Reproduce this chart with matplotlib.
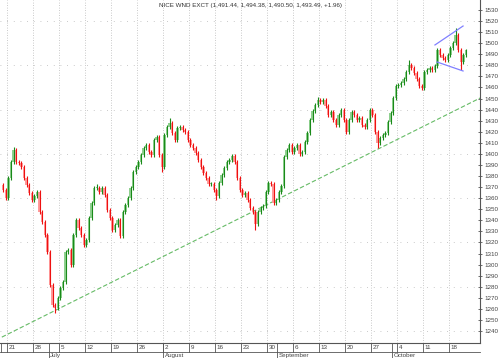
import numpy as np
import matplotlib
matplotlib.use("Agg")
import matplotlib.pyplot as plt

plt.rcParams["font.family"] = ["Liberation Sans", "DejaVu Sans"]

# ---------------- data ----------------
title = "NICE WND EXCT (1,491.44, 1,494.38, 1,490.50, 1,493.49, +1.96)"

# weekly tick labels (Mondays) and their trading-day index (June 21 2010 = 0)
week_labels = ["21", "28", "5", "12", "19", "26", "2", "9", "16", "23",
               "30", "6", "13", "20", "27", "4", "11", "18"]
week_index = [0, 5, 10, 15, 20, 25, 30, 35, 40, 45, 50, 55, 60, 65, 70, 75, 80, 85]
month_labels = ["July", "August", "September", "October"]
month_index = [8, 30, 52, 74]

# half-day bars starting June 18 (index -1)
bar_start = -1.0
bar_step = 0.5
closes = [
    1367.4, 1360.2, 1378.2, 1392.7, 1403.5, 1392.7, 1391.8, 1388.2, 1378.2, 1371.9,
    1364.7, 1358.4, 1362.0, 1365.6, 1347.5, 1338.5, 1326.7, 1311.4, 1281.6, 1263.5,
    1260.8, 1269.8, 1278.9, 1284.3, 1311.4, 1313.2, 1299.6, 1326.7, 1340.3, 1333.1,
    1326.7, 1317.7, 1322.2, 1342.1, 1355.6, 1369.2, 1369.2, 1365.6, 1369.2, 1362.9,
    1349.3, 1342.1, 1331.3, 1335.8, 1340.3, 1325.8, 1347.5, 1353.8, 1360.2, 1369.2,
    1383.6, 1388.2, 1392.7, 1399.0, 1405.3, 1408.0, 1401.7, 1399.0, 1412.6, 1415.3,
    1399.0, 1388.2, 1417.1, 1424.3, 1427.9, 1418.9, 1412.6, 1423.4, 1424.3, 1421.6,
    1419.8, 1412.6, 1408.0, 1405.3, 1400.8, 1394.5, 1388.2, 1382.7, 1378.2, 1372.8,
    1372.8, 1367.4, 1362.0, 1373.7, 1380.9, 1387.3, 1392.7, 1394.5, 1398.1, 1392.7,
    1378.2, 1367.4, 1362.9, 1364.7, 1358.4, 1351.1, 1347.5, 1336.7, 1347.5, 1351.1,
    1352.9, 1365.6, 1373.7, 1372.8, 1355.6, 1358.4, 1365.6, 1371.0, 1397.2, 1403.5,
    1408.0, 1401.7, 1405.3, 1408.0, 1399.9, 1401.7, 1410.8, 1418.9, 1430.6, 1438.8,
    1444.2, 1448.7, 1446.9, 1448.7, 1443.3, 1435.1, 1437.9, 1430.6, 1426.1, 1435.1,
    1439.7, 1430.6, 1419.8, 1430.6, 1437.9, 1435.1, 1430.6, 1432.4, 1426.1, 1424.3,
    1430.6, 1439.7, 1435.1, 1419.8, 1409.8, 1414.4, 1417.1, 1418.9, 1428.8, 1436.9,
    1450.5, 1461.3, 1462.2, 1464.1, 1467.7, 1474.0, 1480.3, 1477.6, 1473.1, 1467.7,
    1461.3, 1459.5, 1474.0, 1475.8, 1477.6, 1475.8, 1479.4, 1493.9, 1489.3, 1486.6,
    1484.8, 1489.3, 1495.7, 1500.2, 1507.4, 1493.9, 1483.0, 1489.3, 1493.5,
]
first_open = 1372.0
# extremes (bar number -> price)
low_marks = {20: 1256.0, 97: 1331.0, 144: 1405.0, 176: 1476.0, 61: 1384.0, 82: 1358.0}
high_marks = {174: 1514.0, 64: 1432.0, 36: 1373.0, 121: 1451.0, 156: 1485.0, 4: 1406.0}

# trend lines (day index, price)
trend_x = [-1.0, 91.0]
trend_y = [1234.5, 1450.5]
chan_up_x = [82.3, 87.7]
chan_up_y = [1498.4, 1515.5]
chan_lo_x = [82.7, 87.7]
chan_lo_y = [1483.0, 1474.9]

price_ticks = list(range(1240, 1531, 10))

# ---------------- figure ----------------
W, H = 500, 358
fig = plt.figure(figsize=(W / 100, H / 100), dpi=100)
ax = fig.add_axes([0, 1 - 343 / H, 480 / W, 343 / H])

n = len(closes)
xs = bar_start + bar_step * np.arange(n) + 0.25
opens = [first_open] + closes[:-1]
highs, lows = [], []
for i in range(n):
    hi = max(opens[i], closes[i]) + 1.5
    lo = min(opens[i], closes[i]) - 1.5
    hi = max(hi, high_marks.get(i, hi))
    lo = min(lo, low_marks.get(i, lo))
    highs.append(hi)
    lows.append(lo)

for i in range(n):
    up = closes[i] >= opens[i]
    light = "#8fd08f" if up else "#ff9a9a"
    dark = "#1a8a1a" if up else "#ee1111"
    b = min(opens[i], closes[i])
    h = max(abs(closes[i] - opens[i]), 0.6)
    ax.bar(xs[i], h, bottom=b, width=0.46, color=light, edgecolor="none", zorder=3)
    ax.vlines(xs[i], lows[i], highs[i], color=dark, lw=0.8, zorder=4)

# grid
for wi in week_index:
    ax.axvline(wi, color="#b8b8b8", lw=0.6, ls=(0, (1, 2)), zorder=1)
for p in range(1240, 1531, 40):
    ax.axhline(p, color="#b8b8b8", lw=0.6, ls=(0, (1, 7)), zorder=1)

# trend lines
ax.plot(trend_x, trend_y, color="#66bb66", lw=0.8, ls=(0, (4, 2)), zorder=2)
ax.plot(chan_up_x, chan_up_y, color="#8080ff", lw=0.9, zorder=5)
ax.plot(chan_lo_x, chan_lo_y, color="#8080ff", lw=0.9, zorder=5)

ax.set_xlim(-1.35, 90.96)
ax.set_ylim(1229.2, 1539.0)

for s in ["top", "left"]:
    ax.spines[s].set_visible(False)
ax.spines["right"].set_color("#555555")
ax.spines["bottom"].set_color("#555555")
ax.spines["right"].set_linewidth(0.8)
ax.spines["bottom"].set_linewidth(0.8)

ax.yaxis.tick_right()
ax.set_yticks(price_ticks)
ax.set_yticklabels([str(p) for p in price_ticks])
ax.tick_params(axis="y", direction="inout", length=3, width=0.6, pad=1.5,
               labelsize=4.5, colors="#555555", labelcolor="#444444")
ax.set_xticks([])

ax.text(0.5 * W / 480, 1 - 5 / 343, title, transform=ax.transAxes,
        ha="center", va="center", fontsize=4.5, color="#333333")

# x-axis label band
fx = lambda d: (7 + 5.2 * d) / W
line_kw = dict(color="#555555", lw=0.6)
fig.add_artist(plt.Line2D([0, 480 / W], [1 - 352 / H] * 2, **line_kw))
for wi, lab in zip(week_index, week_labels):
    x = fx(wi)
    fig.add_artist(plt.Line2D([x, x], [1 - 343 / H, 1 - 352 / H], **line_kw))
    fig.text(x + 1.5 / W, 1 - 347.5 / H, lab, ha="left", va="center",
             fontsize=4.5, color="#444444")
for mi, lab in zip(month_index, month_labels):
    x = fx(mi)
    fig.add_artist(plt.Line2D([x, x], [1 - 343 / H, 0], **line_kw))
    fig.text(x + 1.5 / W, 1 - 355.5 / H, lab, ha="left", va="center",
             fontsize=4.5, color="#444444")
fig.add_artist(plt.Line2D([0.5 / W, 0.5 / W], [1 - 343 / H, 1 - 352 / H], **line_kw))

fig.savefig("out.png", dpi=100)
